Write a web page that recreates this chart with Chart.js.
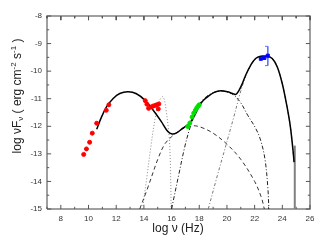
<!DOCTYPE html>
<html><head><meta charset="utf-8">
<script src="https://cdn.jsdelivr.net/npm/chart.js@4/dist/chart.umd.min.js"></script>
<style>html,body{margin:0;padding:0;background:#fff}canvas{display:block}</style>
</head><body>
<canvas id="c" width="327" height="242"></canvas>
<script>
// ---- axis ranges and tick labels ----
const xMinV = 7, xMaxV = 26, yMinV = -15, yMaxV = -8;
const xTicks = [8, 10, 12, 14, 16, 18, 20, 22, 24, 26];
const yTicks = [-8, -9, -10, -11, -12, -13, -14, -15];
const xMinor = [7, 9, 11, 13, 15, 17, 19, 21, 23, 25];
const yMinor = [-8.5, -9.5, -10.5, -11.5, -12.5, -13.5, -14.5];

// ---- observed data ----
const radioX = [9.65, 9.85, 10.08, 10.27, 10.59, 11.28, 11.47];
const radioY = [-13.02, -12.82, -12.58, -12.25, -11.89, -11.42, -11.22];
const optX = [14.1, 14.22, 14.34, 14.56, 14.7, 14.85, 14.94, 15.04, 15.08];
const optY = [-11.07, -11.2, -11.35, -11.29, -11.26, -11.24, -11.22, -11.37, -11.19];
const xrayX = [17.17, 17.32, 17.48, 17.6, 17.72, 17.82, 17.92, 18.0];
const xrayY = [-12.01, -11.88, -11.66, -11.52, -11.42, -11.33, -11.27, -11.22];
const gammaX = [22.45, 22.7, 22.95];
const gammaY = [-9.55, -9.52, -9.44];
const gammaErrX = [22.75, 22.95, 22.95, 22.75];
const gammaErrY = [-9.1, -9.1, -9.8, -9.8];

// ---- model curves ----
const totalX = [10.59, 10.95, 11.31, 11.78, 12.26, 12.86, 13.46, 14.06, 14.66, 15.26, 15.73, 16.04, 16.33, 16.81, 17.29, 17.65, 18.0, 18.3, 18.6, 19.08, 19.56, 20.04, 20.4, 20.64, 20.88, 21.11, 21.36, 21.72, 22.07, 22.43, 22.9, 23.27, 23.63, 23.99, 24.34, 24.58, 24.77, 24.85];
const totalY = [-12.11, -11.65, -11.29, -10.99, -10.81, -10.75, -10.82, -11.05, -11.41, -11.83, -12.19, -12.28, -12.25, -12.07, -11.89, -11.62, -11.26, -11.06, -10.93, -10.77, -10.71, -10.75, -10.81, -10.84, -10.69, -10.45, -10.14, -9.78, -9.54, -9.46, -9.46, -9.54, -9.84, -10.44, -11.29, -12.01, -12.86, -13.3];
const thermX = [13.9, 14.2, 14.5, 14.8, 15.05, 15.2, 15.37, 15.5, 15.62, 15.74, 15.85, 15.92, 15.97];
const thermY = [-15, -13.9, -12.75, -11.75, -11.2, -11.0, -10.93, -11.1, -11.47, -11.95, -12.56, -13.5, -15];
const dashX = [13.7, 14.3, 15.0, 15.5, 16.0, 16.5, 17.0, 17.6, 18.2, 19.0, 20.0, 21.0, 22.0, 22.5, 22.7];
const dashY = [-15, -14.2, -13.2, -12.65, -12.38, -12.18, -12.05, -11.98, -12.05, -12.25, -12.65, -13.2, -14.0, -14.6, -15];
const sscX = [16.0, 16.5, 16.95, 17.3, 17.65, 18.0, 18.5, 19.0, 19.6, 20.1, 20.5, 21.0, 21.5, 22.07, 22.43, 22.75, 22.95, 23.03];
const sscY = [-15, -13.8, -12.75, -12.1, -11.6, -11.2, -10.93, -10.78, -10.72, -10.77, -10.87, -11.15, -11.6, -12.07, -12.5, -13.2, -14.2, -15];
const ecX = [18.65, 19.3, 19.92, 20.5, 20.9, 21.2, 21.5, 21.8, 22.1, 22.5, 22.9, 23.27, 23.63, 23.99, 24.34, 24.58, 24.77, 24.85];
const ecY = [-15, -13.8, -12.7, -11.65, -10.9, -10.4, -10.0, -9.72, -9.55, -9.46, -9.46, -9.54, -9.84, -10.44, -11.29, -12.01, -12.86, -13.3];
const cutX = [24.9, 24.9];
const cutY = [-12.7, -15];

const xy = (xs, ys) => xs.map((x, i) => ({x: x, y: ys[i]}));
const curve = (xs, ys, color, width, dash) => ({
  data: xy(xs, ys), showLine: true, pointRadius: 0, borderColor: color,
  borderWidth: width, borderDash: dash, tension: 0.35, fill: false
});

// frame traced along the axis limits
const frameData = [
  {x: xMinV, y: yMinV}, {x: xMaxV, y: yMinV}, {x: xMaxV, y: yMaxV}, {x: xMinV, y: yMaxV}, {x: xMinV, y: yMinV}
];
// inward tick marks on all four sides (lengths in axis units)
const tickData = [];
const seg = (a, b) => { tickData.push(a, b, {x: a.x, y: null}); };
const xMajLen = 0.15, xMinLen = 0.08, yMajLen = 0.3, yMinLen = 0.16;
xTicks.forEach(v => { seg({x: v, y: yMinV}, {x: v, y: yMinV + xMajLen}); seg({x: v, y: yMaxV}, {x: v, y: yMaxV - xMajLen}); });
xMinor.forEach(v => { seg({x: v, y: yMinV}, {x: v, y: yMinV + xMinLen}); seg({x: v, y: yMaxV}, {x: v, y: yMaxV - xMinLen}); });
yTicks.forEach(v => { seg({x: xMinV, y: v}, {x: xMinV + yMajLen, y: v}); seg({x: xMaxV, y: v}, {x: xMaxV - yMajLen, y: v}); });
yMinor.forEach(v => { seg({x: xMinV, y: v}, {x: xMinV + yMinLen, y: v}); seg({x: xMaxV, y: v}, {x: xMaxV - yMinLen, y: v}); });

const FONT = "'Liberation Sans', Arial, sans-serif";

const titles = {
  id: 'titles',
  afterDraw(chart) {
    const ctx = chart.ctx;
    ctx.save();
    ctx.fillStyle = '#222';
    ctx.font = '12px ' + FONT;
    ctx.textAlign = 'center';
    ctx.textBaseline = 'middle';
    ctx.fillText('log \u03bd (Hz)', 178, 229);
    const segs = [
      {t: 'log \u03bdF', s: 12, dy: 0},
      {t: '\u03bd', s: 8, dy: 3},
      {t: ' ( erg cm', s: 12, dy: 0},
      {t: '-2', s: 8, dy: -4},
      {t: ' s', s: 12, dy: 0},
      {t: '-1', s: 8, dy: -4},
      {t: ' )', s: 12, dy: 0}
    ];
    let total = 0;
    segs.forEach(g => { ctx.font = g.s + 'px ' + FONT; g.w = ctx.measureText(g.t).width; total += g.w; });
    ctx.translate(18, 96);
    ctx.rotate(-Math.PI / 2);
    ctx.textAlign = 'left';
    let px = -total / 2;
    segs.forEach(g => { ctx.font = g.s + 'px ' + FONT; ctx.fillText(g.t, px, g.dy); px += g.w; });
    ctx.restore();
  }
};

new Chart(document.getElementById('c'), {
  type: 'scatter',
  data: {
    datasets: [
      {data: xy(gammaX, gammaY), pointStyle: 'rect', pointRadius: 2.2, backgroundColor: '#0000ff', borderColor: '#0000ff', borderWidth: 1},
      {data: xy(gammaErrX, gammaErrY), showLine: true, pointRadius: 0, borderColor: '#5f72ff', borderWidth: 1, tension: 0},
      {data: xy(xrayX, xrayY), pointRadius: 2, backgroundColor: '#00e000', borderColor: '#00e000', borderWidth: 1},
      {data: xy(optX, optY), pointRadius: 2, backgroundColor: '#ff0000', borderColor: '#ff0000', borderWidth: 1},
      {data: xy(radioX, radioY), pointRadius: 2, backgroundColor: '#ff0000', borderColor: '#ff0000', borderWidth: 1},
      curve(totalX, totalY, '#000000', 1.5, []),
      curve(cutX, cutY, '#808080', 2, []),
      curve(ecX, ecY, '#777777', 1, [3, 2, 1, 2]),
      curve(sscX, sscY, '#222222', 1, [4, 2, 1, 2]),
      curve(dashX, dashY, '#333333', 1, [4, 3]),
      curve(thermX, thermY, '#888888', 1, [1, 2]),
      {data: tickData, showLine: true, spanGaps: false, pointRadius: 0, borderColor: '#555555', borderWidth: 1, tension: 0, clip: false},
      {data: frameData, showLine: true, pointRadius: 0, borderColor: '#808080', borderWidth: 1.5, tension: 0, clip: false}
    ]
  },
  options: {
    responsive: false, devicePixelRatio: 1, animation: false,
    layout: {padding: {top: 16, right: 17, left: 0, bottom: 0}},
    plugins: {legend: {display: false}, tooltip: {enabled: false}},
    scales: {
      x: {
        type: 'linear', min: xMinV, max: xMaxV, position: 'bottom',
        grid: {display: false, drawTicks: false}, border: {display: false},
        ticks: {font: {size: 8, family: FONT}, color: '#333', padding: 5, maxRotation: 0, autoSkip: false},
        afterBuildTicks: s => { s.ticks = xTicks.map(v => ({value: v})); },
        afterFit: s => { s.height = 33; }
      },
      y: {
        type: 'linear', min: yMinV, max: yMaxV, position: 'left',
        grid: {display: false, drawTicks: false}, border: {display: false},
        ticks: {font: {size: 8, family: FONT}, color: '#333', padding: 5, autoSkip: false},
        afterBuildTicks: s => { s.ticks = yTicks.map(v => ({value: v})); },
        afterFit: s => { s.width = 47; }
      }
    }
  },
  plugins: [titles]
});
</script>
</body></html>
